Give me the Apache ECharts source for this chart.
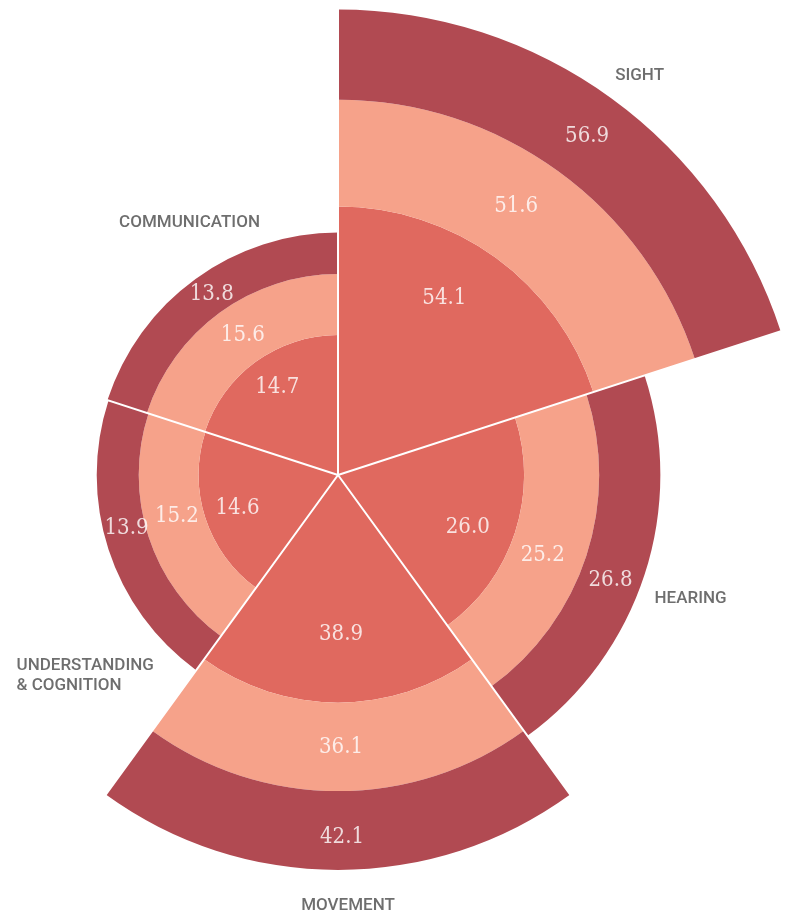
<!DOCTYPE html>
<html>
<head>
<meta charset="utf-8">
<title>Disability by type</title>
<script src="https://cdn.jsdelivr.net/npm/echarts@6/dist/echarts.min.js"></script>
<style>
  html, body { margin: 0; padding: 0; background: #ffffff; }
  #chart { width: 786px; height: 915px; }
</style>
</head>
<body>
<div id="chart"></div>
<script>
// Categories, clockwise from 12 o'clock
const categories = ['SIGHT', 'HEARING', 'MOVEMENT', 'UNDERSTANDING & COGNITION', 'COMMUNICATION'];
const categoryLabels = ['SIGHT', 'HEARING', 'MOVEMENT', '{l|UNDERSTANDING}\n{l|& COGNITION}', 'COMMUNICATION'];

// Ring values, innermost to outermost
const innerValues  = [54.1, 26.0, 38.9, 14.6, 14.7];
const middleValues = [51.6, 25.2, 36.1, 15.2, 15.6];
const outerValues  = [56.9, 26.8, 42.1, 13.9, 13.8];

const ringValues = [innerValues, middleValues, outerValues];
const ringColors = ['#e0695f', '#f6a28a', '#b14a52'];

// Layout: the radius grows with the square root of the stacked total,
// so each ring's area follows its value.
const PX_PER_UNIT = 36.5;
const RADIUS_MAX = 13;
const CENTER = [338, 475];

// Nudges (px) for the value and category labels
const valueLabelNudge = [
  [[-12, -14], [-3, 9], [3, -11], [-1, 1], [1, -3]],
  [[-11, -8], [-8, 11], [3, 0], [0, -11], [5, -2]],
  [[2, 1], [-5, 15], [4, 7], [-2, -15], [4, -1]]
];
const nameLabelNudge = [[28, -23], [46, 24], [10, 36], [-22, 126], [-6, -56]];

const nameFont = 'Roboto, "Noto Sans", sans-serif';

// cumulative sqrt radii per ring
const cumRoot = ringValues.map((_, k) =>
  categories.map((_, i) => {
    let s = 0;
    for (let j = 0; j <= k; j++) s += ringValues[j][i];
    return Math.sqrt(s);
  })
);

const barSeries = ringValues.map((vals, k) => ({
  type: 'bar',
  coordinateSystem: 'polar',
  stack: 'rings',
  barCategoryGap: '0%',
  z: 2,
  itemStyle: { color: ringColors[k] },
  emphasis: { disabled: true },
  data: categories.map((_, i) => cumRoot[k][i] - (k > 0 ? cumRoot[k - 1][i] : 0))
}));

// value label anchor radius: ring middle (inner ring: 3/4 of its radius)
const valueLabelData = [];
ringValues.forEach((vals, k) => {
  categories.forEach((_, i) => {
    const r1 = cumRoot[k][i];
    const r0 = k > 0 ? cumRoot[k - 1][i] : 0;
    const r = k === 0 ? r1 * 0.75 : (r0 + r1) / 2;
    valueLabelData.push({
      value: [r, i],
      label: { formatter: vals[i].toFixed(1), offset: valueLabelNudge[k][i] }
    });
  });
});

const nameLabelData = categories.map((_, i) => ({
  value: [cumRoot[2][i], i],
  label: { formatter: categoryLabels[i], offset: nameLabelNudge[i] }
}));

const chart = echarts.init(document.getElementById('chart'), null, { renderer: 'canvas' });

chart.setOption({
  backgroundColor: '#ffffff',
  animation: false,
  polar: {
    center: CENTER,
    radius: RADIUS_MAX * PX_PER_UNIT
  },
  angleAxis: {
    type: 'category',
    data: categories,
    startAngle: 90,
    clockwise: true,
    z: 10,
    axisLine: { show: false },
    axisTick: { show: false },
    axisLabel: { show: false },
    splitLine: { show: true, lineStyle: { color: '#ffffff', width: 2 } }
  },
  radiusAxis: {
    type: 'value',
    min: 0,
    max: RADIUS_MAX,
    axisLine: { show: false },
    axisTick: { show: false },
    axisLabel: { show: false },
    splitLine: { show: false }
  },
  series: [
    ...barSeries,
    {
      type: 'scatter',
      coordinateSystem: 'polar',
      symbolSize: 0,
      z: 20,
      silent: true,
      label: {
        show: true,
        position: 'inside',
        color: '#ffffff',
        fontFamily: '"DejaVu Serif Condensed", "DejaVu Serif", serif',
        fontSize: 22
      },
      data: valueLabelData
    },
    {
      type: 'scatter',
      coordinateSystem: 'polar',
      symbolSize: 0,
      z: 20,
      silent: true,
      label: {
        show: true,
        position: 'inside',
        color: '#4a4a4a',
        fontFamily: nameFont,
        fontWeight: 500,
        fontSize: 17,
        lineHeight: 20,
        rich: {
          l: {
            width: 140,
            align: 'left',
            color: '#4a4a4a',
            fontFamily: nameFont,
            fontWeight: 500,
            fontSize: 17,
            lineHeight: 20
          }
        }
      },
      data: nameLabelData
    }
  ]
});
</script>
</body>
</html>
